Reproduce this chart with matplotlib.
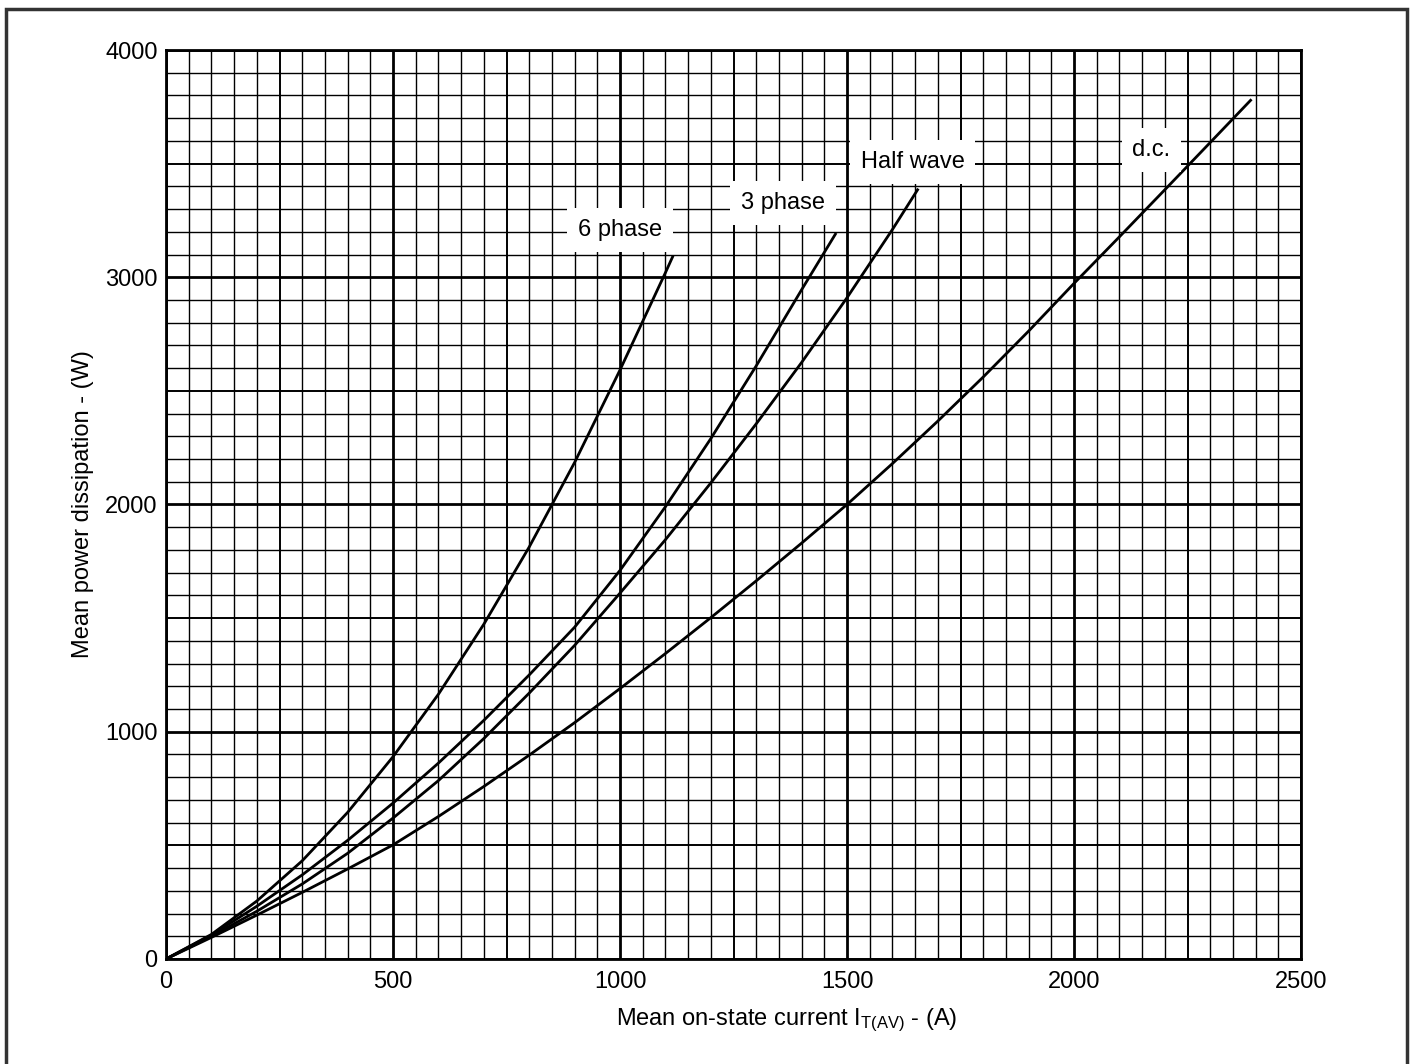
import matplotlib
matplotlib.use('Agg')
import matplotlib.pyplot as plt
import numpy as np
from matplotlib.patches import Rectangle

plt.rcParams['font.family'] = ['Liberation Sans', 'DejaVu Sans']
plt.rcParams['mathtext.default'] = 'regular'

# values (current in A, power in W)
six_phase_i = [0, 100, 200, 300, 400, 500, 600, 700, 800, 900, 1000, 1100, 1117]
six_phase_p = [0, 108, 255, 432, 645, 890, 1165, 1473, 1813, 2185, 2592, 3020, 3095]

three_phase_i = [0, 100, 200, 300, 400, 500, 600, 700, 800, 900, 1000, 1100, 1200, 1300, 1400, 1476]
three_phase_p = [0, 105, 232, 370, 522, 686, 862, 1050, 1250, 1460, 1710, 1990, 2290, 2610, 2945, 3195]

half_wave_i = [0, 100, 200, 300, 400, 500, 600, 700, 800, 900, 1000, 1100, 1200, 1300, 1400, 1500, 1600, 1657]
half_wave_p = [0, 100, 210, 330, 465, 620, 785, 970, 1170, 1380, 1610, 1845, 2095, 2355, 2625, 2910, 3210, 3390]

dc_i = [0, 100, 200, 300, 400, 500, 600, 700, 800, 900, 1000, 1100, 1200, 1300, 1400, 1500,
        1600, 1700, 1800, 1900, 2000, 2100, 2200, 2300, 2391]
dc_p = [0, 95, 193, 293, 396, 502, 627, 759, 897, 1040, 1190, 1344, 1502, 1664, 1830, 2000,
        2180, 2367, 2561, 2763, 2973, 3178, 3385, 3593, 3783]

curve_labels = ['6 phase', '3 phase', 'Half wave', 'd.c.']
label_x = [1000, 1359, 1645, 2170]
label_y = [3208, 3327, 3507, 3560]

x_ticks = [0, 500, 1000, 1500, 2000, 2500]
y_ticks = [0, 1000, 2000, 3000, 4000]


def draw_grid(ax):
    # fine / medium / heavy graph-paper lines
    for x in np.arange(0, 2501, 50):
        if x % 500 == 0:
            lw = 2.0
        elif x % 250 == 0:
            lw = 1.4
        else:
            lw = 1.0
        ax.axvline(x, color='black', lw=lw, zorder=1)
    for y in np.arange(0, 4001, 100):
        if y % 1000 == 0:
            lw = 2.0
        elif y % 500 == 0:
            lw = 1.4
        else:
            lw = 1.0
        ax.axhline(y, color='black', lw=lw, zorder=1)


def main():
    fig = plt.figure(figsize=(14.14, 10.64), dpi=100)
    ax = fig.add_axes([0.1174, 0.0987, 0.8027, 0.8543])

    draw_grid(ax)

    for xs, ys in [(six_phase_i, six_phase_p), (three_phase_i, three_phase_p),
                   (half_wave_i, half_wave_p), (dc_i, dc_p)]:
        ax.plot(xs, ys, color='black', lw=2.0, zorder=3,
                solid_capstyle='butt', solid_joinstyle='round')

    for txt, lx, ly in zip(curve_labels, label_x, label_y):
        ax.text(lx, ly, txt, fontsize=17, ha='center', va='center', zorder=4,
                bbox=dict(boxstyle='square,pad=0.45', fc='white', ec='none'))

    ax.set_xlim(0, 2500)
    ax.set_ylim(0, 4000)
    ax.set_xticks(x_ticks)
    ax.set_yticks(y_ticks)
    ax.tick_params(length=0, labelsize=17)
    ax.tick_params(axis='x', pad=9)
    ax.tick_params(axis='y', pad=6)
    for sp in ax.spines.values():
        sp.set_linewidth(2.0)

    ax.set_xlabel('Mean on-state current I$_{T(AV)}$ - (A)', fontsize=17, labelpad=7)
    ax.xaxis.set_label_coords(0.547, -0.052)
    ax.set_ylabel('Mean power dissipation - (W)', fontsize=17, labelpad=8)

    # outer frame around the whole figure
    fig.patches.append(Rectangle((0.0045, -0.05), 0.9905, 1.0415, transform=fig.transFigure,
                                 fill=False, ec='#333333', lw=2.5))

    plt.savefig('out.png', dpi=100)
    plt.close()


if __name__ == "__main__":
    main()
